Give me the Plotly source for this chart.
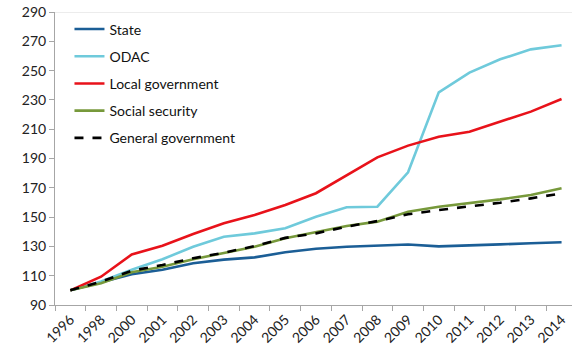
import plotly.graph_objects as go

years = ["1996", "1998", "2000", "2001", "2002", "2003", "2004", "2005", "2006",
         "2007", "2008", "2009", "2010", "2011", "2012", "2013", "2014"]

state = [100, 105.5, 111, 114, 118.5, 121, 122.5, 126, 128.4,
         129.8, 130.3, 131.3, 130, 130.5, 131.4, 132.1, 132.8]
odac = [100, 106, 114, 121.2, 129.8, 136.6, 138.9, 142.4, 150.3,
        156.7, 157.1, 180.6, 235.2, 248.6, 257.7, 264.5, 267.3]
local_gov = [100, 109.3, 124.5, 130.5, 138.5, 145.8, 151.4, 158.3, 166.3,
             178.7, 190.8, 198.8, 204.9, 208.3, 215.1, 222, 230.6]
social_sec = [100, 104.8, 112.3, 116.1, 121.2, 125.3, 129.8, 135.5, 139.6,
              143.9, 146.9, 153.7, 157.1, 159.4, 162.1, 165.1, 169.7]
general_gov = [100, 106, 113.4, 117.3, 121.9, 125.7, 130.2, 135.8, 138.9,
               143.5, 147.3, 151.9, 154.8, 157.1, 159.8, 162.8, 166.2]

y_ticks = list(range(90, 291, 20))

series = [
    ("State", state, "#1b5e96", "solid"),
    ("ODAC", odac, "#6fcadb", "solid"),
    ("Local government", local_gov, "#e8121a", "solid"),
    ("Social security", social_sec, "#77993b", "solid"),
    ("General government", general_gov, "#000000", "dash"),
]

fig = go.Figure()
for i, (name, vals, color, dash) in enumerate(series):
    fig.add_trace(go.Scatter(
        x=years, y=vals, name=name, mode="lines",
        legendgroup=f"g{i}",
        line=dict(color=color, width=2.6, dash=dash),
    ))

font_family = "Lato, 'Noto Sans', sans-serif"

fig.update_layout(
    width=572, height=353,
    margin=dict(l=55, r=0, t=12, b=48),
    paper_bgcolor="white", plot_bgcolor="white",
    font=dict(family=font_family, size=14, color="#222222"),
    showlegend=True,
    legend=dict(
        x=0.028, y=0.995, xanchor="left", yanchor="top",
        bgcolor="rgba(0,0,0,0)", font=dict(size=14, color="#111111"),
        tracegroupgap=6, itemwidth=30,
    ),
    xaxis=dict(
        type="category", range=[-0.5, 16.34],
        tickson="boundaries", ticks="outside", ticklen=5,
        tickcolor="#a6a6a6", tickangle=-45,
        showline=True, linecolor="#a6a6a6", linewidth=1,
        showgrid=False, zeroline=False,
        tickfont=dict(size=14),
    ),
    yaxis=dict(
        range=[90, 290], tickvals=y_ticks, ticks="outside", ticklen=5,
        tickcolor="#a6a6a6",
        showline=True, linecolor="#a6a6a6", linewidth=1,
        showgrid=False, zeroline=False,
        tickfont=dict(size=14),
    ),
    shapes=[dict(type="line", xref="paper", yref="y", x0=0, x1=1, y0=290, y1=290,
                 line=dict(color="#d9d9d9", width=1))],
)

fig.write_html("out.html")
